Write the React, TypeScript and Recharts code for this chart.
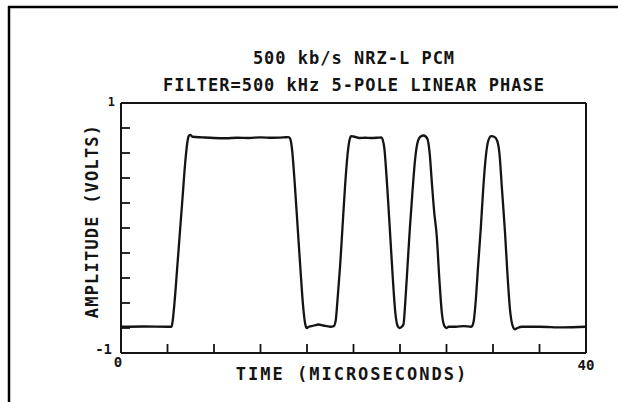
import React from 'react';
import { LineChart, Line, XAxis, YAxis, ReferenceLine } from 'recharts';

const timeUs = [
  0, 2, 4.0, 4.35, 4.45, 4.6, 4.85, 5.07, 5.3, 5.52, 5.7, 5.82, 5.95, 6.15, 7, 8, 9, 10, 11, 12, 13, 14,
  14.4, 14.55, 14.7, 14.95, 15.2, 15.45, 15.68, 15.85, 15.98, 16.15, 16.6, 17.0, 17.4, 18.0, 18.3,
  18.47, 18.62, 18.85, 19.05, 19.27, 19.48, 19.65, 19.8, 20.0, 20.5, 21.0, 21.5, 22.0, 22.4,
  22.5, 22.65, 22.9, 23.14, 23.38, 23.6, 23.78, 23.95, 24.15, 24.3, 24.45, 24.65, 24.85, 25.08,
  25.3, 25.5, 25.75, 26.05, 26.35, 26.55, 26.75, 26.95, 27.15, 27.38, 27.6, 27.8, 27.98, 28.2,
  28.8, 29.5, 30.1, 30.2, 30.35, 30.5, 30.72, 30.95, 31.17, 31.38, 31.6, 31.85, 32.1, 32.35,
  32.55, 32.78, 33.03, 33.25, 33.47, 33.68, 33.88, 34.1, 34.5, 36, 38, 40,
];

const amplitudeV = [
  -0.79, -0.788, -0.79, -0.79, -0.74, -0.6, -0.3, -0.03, 0.25, 0.52, 0.68, 0.735, 0.745, 0.73, 0.725, 0.72, 0.718, 0.722, 0.72, 0.725, 0.722, 0.725,
  0.727, 0.715, 0.64, 0.35, 0.0, -0.35, -0.64, -0.77, -0.8, -0.79, -0.78, -0.772, -0.78, -0.79, -0.785,
  -0.74, -0.58, -0.3, 0.0, 0.33, 0.58, 0.7, 0.735, 0.732, 0.72, 0.722, 0.72, 0.722, 0.725,
  0.71, 0.64, 0.33, -0.03, -0.4, -0.68, -0.78, -0.8, -0.79, -0.77, -0.6, -0.3, 0.0, 0.3,
  0.55, 0.68, 0.73, 0.74, 0.715, 0.6, 0.35, 0.12, -0.05, -0.4, -0.68, -0.78, -0.8, -0.79,
  -0.79, -0.785, -0.79, -0.785, -0.74, -0.6, -0.3, 0.0, 0.33, 0.57, 0.7, 0.735, 0.73, 0.7,
  0.6, 0.3, -0.03, -0.38, -0.66, -0.78, -0.81, -0.8, -0.79, -0.79, -0.795, -0.79,
];

const xTicks = [0, 4, 8, 12, 16, 20, 24, 28, 32, 36, 40];
const yTicks = [-1, -0.8, -0.6, -0.4, -0.2, 0, 0.2, 0.4, 0.6, 0.8, 1];
const xTickLabels: Record<number, string> = { 0: '0', 40: '40' };
const yTickLabels: Record<number, string> = { 1: '1', [-1]: '-1' };

const titleLines = ['500 kb/s NRZ-L PCM', 'FILTER=500 kHz 5-POLE LINEAR PHASE'];
const xAxisTitle = 'TIME (MICROSECONDS)';
const yAxisTitle = 'AMPLITUDE (VOLTS)';

const data = timeUs.map((t, i) => ({ t, v: amplitudeV[i] }));

const INK = '#141414';
const FONT = '"DejaVu Sans Mono", "Liberation Mono", monospace';

const XTick = (props: any) => {
  const { x, y, payload } = props;
  const label = xTickLabels[payload.value];
  return (
    <g>
      {payload.value !== 0 && payload.value !== 40 && (
        <line x1={x} y1={y} x2={x} y2={y - 9} stroke={INK} strokeWidth={1.8} />
      )}
      {label && (
        <text
          x={payload.value === 0 ? x - 3 : x}
          y={y + (payload.value === 0 ? 14 : 17)}
          textAnchor="middle"
          fontFamily={FONT}
          fontSize={14}
          fontWeight="bold"
          fill={INK}
        >
          {label}
        </text>
      )}
    </g>
  );
};

const YTick = (props: any) => {
  const { x, y, payload } = props;
  const label = yTickLabels[payload.value];
  return (
    <g>
      {payload.value !== 1 && payload.value !== -1 && (
        <line x1={x} y1={y} x2={x + 9} y2={y} stroke={INK} strokeWidth={1.8} />
      )}
      {label && (
        <text
          x={payload.value === 1 ? x - 6 : x - 9}
          y={payload.value === 1 ? y + 3 : y + 1}
          textAnchor="end"
          fontFamily={FONT}
          fontSize={payload.value === 1 ? 12 : 14}
          fontWeight="bold"
          fill={INK}
        >
          {label}
        </text>
      )}
    </g>
  );
};

export default function App() {
  return (
    <div style={{ position: 'absolute', left: 0, top: 0, width: 618, height: 402, background: '#fff' }}>
      <LineChart width={618} height={402} data={data} margin={{ top: 103, right: 32, bottom: 19, left: 81 }}>
        <XAxis
          dataKey="t"
          type="number"
          domain={[0, 40]}
          ticks={xTicks}
          interval={0}
          height={30}
          tickSize={0}
          tickMargin={0}
          tickLine={false}
          tick={XTick}
          axisLine={{ stroke: INK, strokeWidth: 2 }}
        />
        <YAxis
          type="number"
          domain={[-1, 1]}
          ticks={yTicks}
          interval={0}
          width={40}
          tickSize={0}
          tickMargin={0}
          tickLine={false}
          tick={YTick}
          axisLine={{ stroke: INK, strokeWidth: 2 }}
        />
        <ReferenceLine y={1} stroke={INK} strokeWidth={2} />
        <ReferenceLine x={40} stroke={INK} strokeWidth={2} />
        <Line
          dataKey="v"
          type="monotone"
          stroke={INK}
          strokeWidth={2.3}
          dot={false}
          isAnimationActive={false}
        />
      </LineChart>
      <svg
        width={618}
        height={402}
        style={{ position: 'absolute', left: 0, top: 0, pointerEvents: 'none' }}
      >
        <line x1={8} y1={7} x2={618} y2={7} stroke="#000" strokeWidth={2.5} />
        <line x1={9} y1={6} x2={9} y2={402} stroke="#000" strokeWidth={2.5} />
        <text x={354} y={64} textAnchor="middle" fontFamily={FONT} fontSize={17} fontWeight="bold" letterSpacing={1} fill={INK}>
          {titleLines[0]}
        </text>
        <text x={354} y={91} textAnchor="middle" fontFamily={FONT} fontSize={17} fontWeight="bold" letterSpacing={1} fill={INK}>
          {titleLines[1]}
        </text>
        <text x={352} y={380} textAnchor="middle" fontFamily={FONT} fontSize={17} fontWeight="bold" letterSpacing={2} fill={INK}>
          {xAxisTitle}
        </text>
        <text
          x={0}
          y={0}
          transform="translate(98 221) rotate(-90)"
          textAnchor="middle"
          fontFamily={FONT}
          fontSize={17}
          fontWeight="bold"
          letterSpacing={1.2}
          fill={INK}
        >
          {yAxisTitle}
        </text>
      </svg>
    </div>
  );
}
